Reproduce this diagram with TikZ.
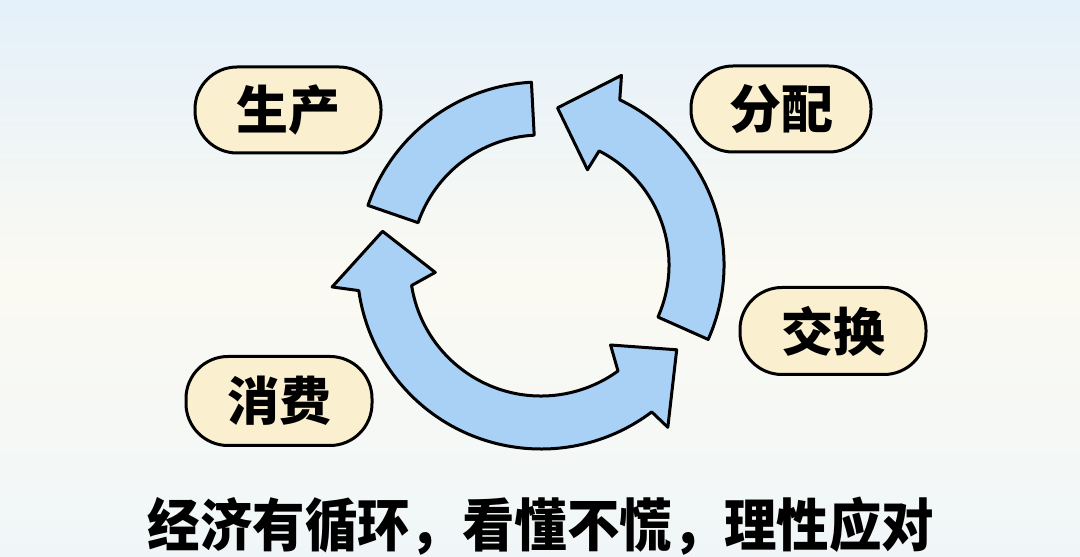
\documentclass[tikz,border=0pt]{standalone}
\usepackage{fontspec}
\newfontfamily\cjk{Noto Sans CJK SC}
\usetikzlibrary{shapes.misc}
\definecolor{bgtop}{HTML}{E4F0FA}
\definecolor{bgmid}{HTML}{FBFAF2}
\definecolor{bgbot}{HTML}{F0F6F8}
\definecolor{arrowfill}{HTML}{A9D0F5}
\definecolor{pillfill}{HTML}{FAF0D0}
\tikzset{
  pill/.style={draw=black, line width=3pt, fill=pillfill, rounded corners=42pt,
    minimum width=186pt, minimum height=86pt, inner sep=0pt,
    font=\cjk\bfseries\fontsize{52}{52}\selectfont},
  cyclearrow/.style={draw=black, line width=3pt, fill=arrowfill, line join=round},
  caption/.style={font=\cjk\bfseries\fontsize{57}{57}\selectfont, inner sep=0pt}
}
\begin{document}
\begin{tikzpicture}[x=1pt,y=1pt]
\useasboundingbox (0,0) rectangle (1080,557);
\fill[top color=bgtop, bottom color=bgbot, middle color=bgmid] (0,0) rectangle (1080,557);
\begin{scope}[shift={(541,292)}]
  % top-left band (no head)
  \draw[cyclearrow] (93:130) arc[start angle=93, end angle=161, radius=130]
     -- (161:183) arc[start angle=161, end angle=93, radius=183] -- cycle;
  % right arrow, head at top
  \draw[cyclearrow] (-24:128) arc[start angle=-24, end angle=63, radius=128]
     -- (64:106) -- (84:158) -- (67:206) -- (64.5:183)
     arc[start angle=64.5, end angle=-24, radius=183] -- cycle;
  % bottom arrow, heads at both ends
  \draw[cyclearrow] (189:131) arc[start angle=189, end angle=306, radius=131]
     -- (311:106) -- (328:160) -- (308:206) -- (307:184)
     arc[start angle=307, end angle=188, radius=184]
     -- (186:210) -- (168:162) -- (184:106) -- cycle;
\end{scope}
\node[pill] (sc) at (288,447) {生产};
\node[pill, minimum width=180pt] (fp) at (781,448) {分配};
\node[pill, minimum height=87pt] (jh) at (833,226) {交换};
\node[pill, minimum height=89pt] (xf) at (279,156) {消费};
\node[caption, xscale=0.92] (cap) at (541,31) {经济有循环，看懂不慌，理性应对};
\end{tikzpicture}
\end{document}
